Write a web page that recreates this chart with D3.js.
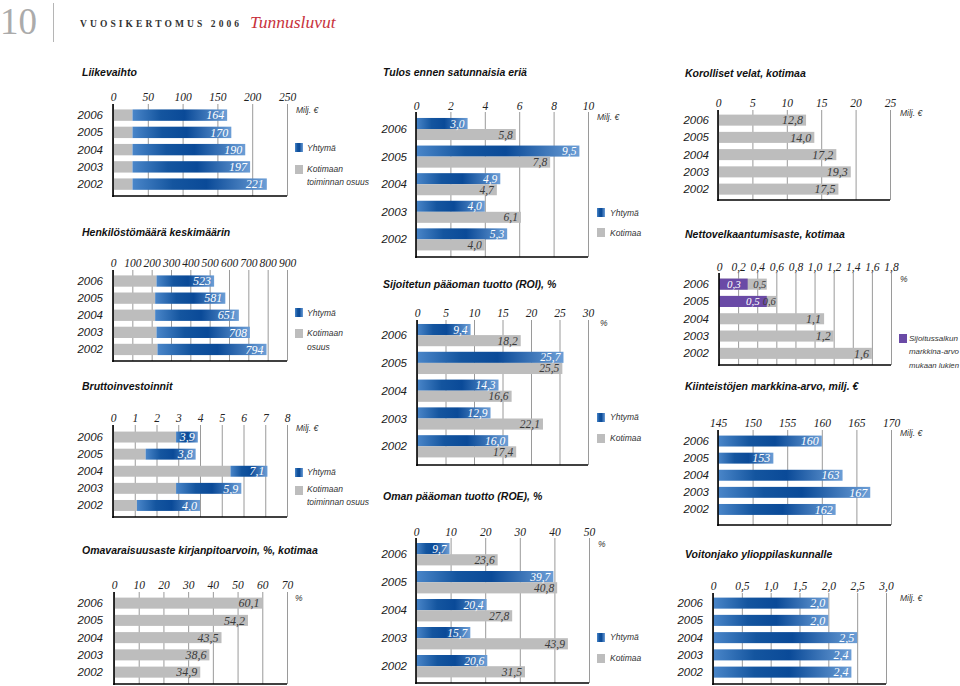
<!DOCTYPE html>
<html><head><meta charset="utf-8">
<script src="https://cdn.jsdelivr.net/npm/d3@7"></script>
<style>
body{margin:0;background:#fff;}
svg{display:block;}
</style></head><body>
<svg id="c" width="960" height="686"></svg>
<script>
// ---------------- DATA ----------------
const years = ["2006","2005","2004","2003","2002"];

const liikevaihtoTicks = [0,50,100,150,200,250];
const liikevaihtoYhtyma = [164,170,190,197,221];
const liikevaihtoKotimaa = [28,28,28,28,28];

const tulosTicks = [0,2,4,6,8,10];
const tulosYhtyma = [3.0,9.5,4.9,4.0,5.3];
const tulosKotimaa = [5.8,7.8,4.7,6.1,4.0];

const korollisetTicks = [0,5,10,15,20,25];
const korollisetVelat = [12.8,14.0,17.2,19.3,17.5];

const henkilostoTicks = [0,100,200,300,400,500,600,700,800,900];
const henkilostoYhtyma = [523,581,651,708,794];
const henkilostoKotimaa = [225,218,218,225,230];

const nettoTicks = [0,0.2,0.4,0.6,0.8,1.0,1.2,1.4,1.6,1.8];
const nettoKotimaa = [0.5,0.6,1.1,1.2,1.6];
const nettoSalkku = [0.3,0.5,null,null,null];

const roiTicks = [0,5,10,15,20,25,30];
const roiYhtyma = [9.4,25.7,14.3,12.9,16.0];
const roiKotimaa = [18.2,25.5,16.6,22.1,17.4];

const bruttoTicks = [0,1,2,3,4,5,6,7,8];
const bruttoYhtyma = [3.9,3.8,7.1,5.9,4.0];
const bruttoKotimaa = [2.9,1.5,5.4,2.9,1.1];

const kiinteistoTicks = [145,150,155,160,165,170];
const kiinteistoArvo = [160,153,163,167,162];

const roeTicks = [0,10,20,30,40,50];
const roeYhtyma = [9.7,39.7,20.4,15.7,20.6];
const roeKotimaa = [23.6,40.8,27.8,43.9,31.5];

const omavaraisTicks = [0,10,20,30,40,50,60,70];
const omavaraisuusaste = [60.1,54.2,43.5,38.6,34.9];

const voitonjakoTicks = [0,0.5,1.0,1.5,2.0,2.5,3.0];
const voitonjako = [2.0,2.0,2.5,2.4,2.4];

// ---------------- STYLE ----------------
const SANS = "'Liberation Sans', Arial, sans-serif";
const SERIF = "'Liberation Serif', 'Times New Roman', serif";
const GRAY = "#bdbdbd";
const PURPLE = "#6a4aa6";
const comma1 = d => d3.format(".1f")(d).replace(".", ",");
const int0 = d => d3.format("d")(d);
const tick1 = d => d === 0 ? "0" : comma1(d);

const svg = d3.select("#c");
const defs = svg.append("defs");
const grad = defs.append("linearGradient").attr("id","blueGrad")
  .attr("x1","0").attr("x2","1").attr("y1","0").attr("y2","0");
[[0,"#4a86c9"],[0.3,"#14559f"],[0.55,"#0a4a98"],[1,"#6c9ed6"]].forEach(s =>
  grad.append("stop").attr("offset",s[0]).attr("stop-color",s[1]));

// ---------------- HEADER ----------------
svg.append("text").attr("x",0).attr("y",34).text("10")
  .attr("font-family",SERIF).attr("font-size",37).attr("fill","#ababab");
svg.append("line").attr("x1",53.5).attr("x2",53.5).attr("y1",3).attr("y2",42)
  .attr("stroke","#b5b5b5").attr("stroke-width",1);
svg.append("text").attr("x",80).attr("y",27).text("VUOSIKERTOMUS 2006")
  .attr("font-family",SERIF).attr("font-weight","bold").attr("font-size",9.5)
  .attr("letter-spacing",3.1).attr("fill","#333");
svg.append("text").attr("x",250).attr("y",28).text("Tunnusluvut")
  .attr("font-family",SERIF).attr("font-style","italic").attr("font-size",17.5).attr("fill","#c8323c");

// ---------------- HELPERS ----------------
function title(x, y, t){
  svg.append("text").attr("x",x).attr("y",y).attr("dy","0.35em").text(t)
    .attr("font-family",SANS).attr("font-weight","bold").attr("font-style","italic")
    .attr("font-size",10.5).attr("fill","#111");
}
function note(x, y, t, len){
  const n = svg.append("text").attr("x",x).attr("y",y).attr("dy","0.35em").text(t)
    .attr("font-family",SANS).attr("font-style","italic").attr("font-size",8.5).attr("fill","#333");
  if (len) n.attr("textLength",len).attr("lengthAdjust","spacingAndGlyphs").attr("font-size",8);
}
function swatch(x, y, fill){
  svg.append("rect").attr("x",x).attr("y",y).attr("width",8).attr("height",9).attr("fill",fill);
}
function valueLabel(g, x, y, t, light, size){
  g.append("text").attr("x",x).attr("y",y).attr("dy","0.35em").attr("text-anchor","end").text(t)
    .attr("font-family",SERIF).attr("font-style","italic").attr("font-size",size || 12)
    .attr("fill", light ? "#ffffff" : "#3a3a3a");
}

function panel(cfg){
  const g = svg.append("g");
  const x = d3.scaleLinear().domain([cfg.ticks[0], cfg.ticks[cfg.ticks.length-1]]).range([cfg.x0, cfg.x1]);
  const y = d3.scaleBand().domain(years)
    .range([cfg.rowTop, cfg.rowTop + cfg.step*years.length])
    .paddingInner(cfg.pad).paddingOuter(cfg.pad/2);
  // grid
  const grid = g.append("g").attr("transform",`translate(0,${cfg.bottom})`)
    .call(d3.axisBottom(x).tickValues(cfg.ticks).tickSize(-(cfg.bottom-cfg.gridTop)).tickFormat(""));
  grid.select(".domain").remove();
  grid.selectAll("line").attr("stroke","#9a9a9a").attr("stroke-width",1);
  // tick labels
  const ax = g.append("g").attr("transform",`translate(0,${cfg.tickY})`)
    .call(d3.axisTop(x).tickValues(cfg.ticks).tickSize(0).tickPadding(0).tickFormat(cfg.tickFmt));
  ax.select(".domain").remove();
  ax.selectAll("text").attr("font-family",SERIF).attr("font-style","italic")
    .attr("font-size",11.5).attr("fill","#222").attr("dy","0.35em");

  const base = cfg.ticks[0];
  const bw = y.bandwidth();
  years.forEach((yr,i) => {
    const top = y(yr);
    if (cfg.kind === "stack"){
      const k = cfg.kot[i], t = cfg.tot[i];
      g.append("rect").attr("x",x(base)).attr("y",top).attr("width",x(k)-x(base)).attr("height",bw).attr("fill",GRAY);
      g.append("rect").attr("x",x(k)).attr("y",top).attr("width",x(t)-x(k)).attr("height",bw).attr("fill","url(#blueGrad)");
      valueLabel(g, x(t)-3, top+bw/2, cfg.fmt(t), true);
    } else if (cfg.kind === "group"){
      const h = bw/2;
      const b = cfg.tot[i], k = cfg.kot[i];
      g.append("rect").attr("x",x(base)).attr("y",top).attr("width",x(b)-x(base)).attr("height",h).attr("fill","url(#blueGrad)");
      g.append("rect").attr("x",x(base)).attr("y",top+h).attr("width",x(k)-x(base)).attr("height",h).attr("fill",GRAY);
      valueLabel(g, x(b)-3, top+h/2, cfg.fmt(b), true, 11.5);
      valueLabel(g, x(k)-3, top+h*1.5, cfg.fmt(k), false, 11.5);
    } else if (cfg.kind === "single"){
      const v = cfg.vals[i];
      const blue = cfg.color === "blue";
      g.append("rect").attr("x",x(base)).attr("y",top).attr("width",x(v)-x(base)).attr("height",bw)
        .attr("fill", blue ? "url(#blueGrad)" : GRAY);
      valueLabel(g, x(v)-3, top+bw/2, cfg.fmt(v), blue);
    } else if (cfg.kind === "overlay"){
      const v = cfg.vals[i], p = cfg.over[i];
      g.append("rect").attr("x",x(base)).attr("y",top).attr("width",x(v)-x(base)).attr("height",bw).attr("fill",GRAY);
      if (p != null){
        g.append("rect").attr("x",x(base)).attr("y",top).attr("width",x(p)-x(base)).attr("height",bw).attr("fill",PURPLE);
        valueLabel(g, x(p)-7, top+bw/2, cfg.fmt(p), true, 11);
        valueLabel(g, x(v)-0.5, top+bw/2, cfg.fmt(v), false, 10.5);
      } else {
        valueLabel(g, x(v)-3, top+bw/2, cfg.fmt(v), false);
      }
    }
    // year label
    g.append("text").attr("x",cfg.yearX).attr("y",top+bw/2).attr("dy","0.35em").attr("text-anchor","end")
      .text(yr).attr("font-family",SANS).attr("font-style","italic").attr("font-size",11.5).attr("fill","#222");
  });
  // axes
  g.append("line").attr("x1",cfg.x0).attr("x2",cfg.x0).attr("y1",cfg.gridTop).attr("y2",cfg.bottom+1)
    .attr("stroke","#000").attr("stroke-width",1.6);
  g.append("line").attr("x1",cfg.x0-0.8).attr("x2",cfg.x1).attr("y1",cfg.bottom).attr("y2",cfg.bottom)
    .attr("stroke","#000").attr("stroke-width",1.6);
}

// ---------------- PANELS ----------------
title(82, 72, "Liikevaihto");
panel({kind:"stack", ticks:liikevaihtoTicks, tickFmt:int0, fmt:int0, x0:113, x1:287,
  tickY:97, gridTop:104, bottom:196, rowTop:106.5, step:17.25, pad:0.34, yearX:103,
  tot:liikevaihtoYhtyma, kot:liikevaihtoKotimaa});
note(296, 110, "Milj. €");
swatch(295, 143, "url(#blueGrad)"); note(307, 148, "Yhtymä");
swatch(295, 165, GRAY); note(307, 169, "Kotimaan"); note(307, 182, "toiminnan osuus");

title(383, 72, "Tulos ennen satunnaisia eriä");
panel({kind:"group", ticks:tulosTicks, tickFmt:int0, fmt:comma1, x0:416, x1:588,
  tickY:106, gridTop:112, bottom:257, rowTop:115.2, step:27.6, pad:0.2, yearX:407,
  tot:tulosYhtyma, kot:tulosKotimaa});
note(597, 117, "Milj. €");
swatch(597, 208, "url(#blueGrad)"); note(610, 213, "Yhtymä");
swatch(597, 228, GRAY); note(610, 233, "Kotimaa");

title(685, 73, "Korolliset velat, kotimaa");
panel({kind:"single", color:"gray", ticks:korollisetTicks, tickFmt:int0, fmt:comma1, x0:718, x1:890,
  tickY:103, gridTop:110, bottom:200, rowTop:111.5, step:17.25, pad:0.36, yearX:709,
  vals:korollisetVelat});
note(900, 113, "Milj. €");

title(82, 232, "Henkilöstömäärä keskimäärin");
panel({kind:"stack", ticks:henkilostoTicks, tickFmt:int0, fmt:int0, x0:113, x1:287,
  tickY:263, gridTop:270, bottom:361, rowTop:272.5, step:17.1, pad:0.34, yearX:103,
  tot:henkilostoYhtyma, kot:henkilostoKotimaa});
swatch(295, 308, "url(#blueGrad)"); note(307, 313, "Yhtymä");
swatch(295, 329, GRAY); note(307, 333, "Kotimaan"); note(307, 347, "osuus");

title(685, 234, "Nettovelkaantumisaste, kotimaa");
panel({kind:"overlay", ticks:nettoTicks, tickFmt:tick1, fmt:comma1, x0:719, x1:891,
  tickY:267, gridTop:273, bottom:365, rowTop:275.5, step:17.3, pad:0.36, yearX:709,
  vals:nettoKotimaa, over:nettoSalkku});
note(900, 279, "%");
swatch(899, 334, PURPLE);
note(909, 338, "Sijoitussalkun", 49); note(909, 351, "markkina-arvo", 50); note(909, 365, "mukaan lukien", 50);

title(383, 284, "Sijoitetun pääoman tuotto (ROI), %");
panel({kind:"group", ticks:roiTicks, tickFmt:int0, fmt:comma1, x0:417, x1:588,
  tickY:313, gridTop:320, bottom:465, rowTop:321.2, step:27.8, pad:0.2, yearX:407,
  tot:roiYhtyma, kot:roiKotimaa});
note(600, 323, "%");
swatch(597, 413, "url(#blueGrad)"); note(610, 417, "Yhtymä");
swatch(597, 434, GRAY); note(610, 438, "Kotimaa");

title(82, 386, "Bruttoinvestoinnit");
panel({kind:"stack", ticks:bruttoTicks, tickFmt:int0, fmt:comma1, x0:113, x1:287,
  tickY:418, gridTop:425, bottom:517, rowTop:428.5, step:17.1, pad:0.36, yearX:103,
  tot:bruttoYhtyma, kot:bruttoKotimaa});
note(296, 428, "Milj. €");
swatch(295, 468, "url(#blueGrad)"); note(307, 472, "Yhtymä");
swatch(295, 486, GRAY); note(307, 489, "Kotimaan"); note(307, 502, "toiminnan osuus");

title(685, 386, "Kiinteistöjen markkina-arvo, milj. €");
panel({kind:"single", color:"blue", ticks:kiinteistoTicks, tickFmt:int0, fmt:int0, x0:718, x1:891,
  tickY:423, gridTop:430, bottom:525, rowTop:432.5, step:17.1, pad:0.36, yearX:709,
  vals:kiinteistoArvo});
note(900, 433, "Milj. €");

title(383, 496, "Oman pääoman tuotto (ROE), %");
panel({kind:"group", ticks:roeTicks, tickFmt:int0, fmt:comma1, x0:416, x1:589,
  tickY:532, gridTop:538, bottom:683, rowTop:540.2, step:28, pad:0.2, yearX:407,
  tot:roeYhtyma, kot:roeKotimaa});
note(598, 544, "%");
swatch(597, 633, "url(#blueGrad)"); note(610, 637, "Yhtymä");
swatch(597, 654, GRAY); note(610, 658, "Kotimaa");

title(82, 550, "Omavaraisuusaste kirjanpitoarvoin, %, kotimaa");
panel({kind:"single", color:"gray", ticks:omavaraisTicks, tickFmt:int0, fmt:comma1, x0:114, x1:287,
  tickY:585, gridTop:592, bottom:684, rowTop:594.5, step:17.25, pad:0.36, yearX:103,
  vals:omavaraisuusaste});
note(295, 598, "%");

title(685, 554, "Voitonjako ylioppilaskunnalle");
panel({kind:"single", color:"blue", ticks:voitonjakoTicks, tickFmt:tick1, fmt:comma1, x0:713, x1:886,
  tickY:586, gridTop:593, bottom:684, rowTop:594.5, step:17.25, pad:0.36, yearX:703,
  vals:voitonjako});
note(900, 598, "Milj. €");
</script>
</body></html>
